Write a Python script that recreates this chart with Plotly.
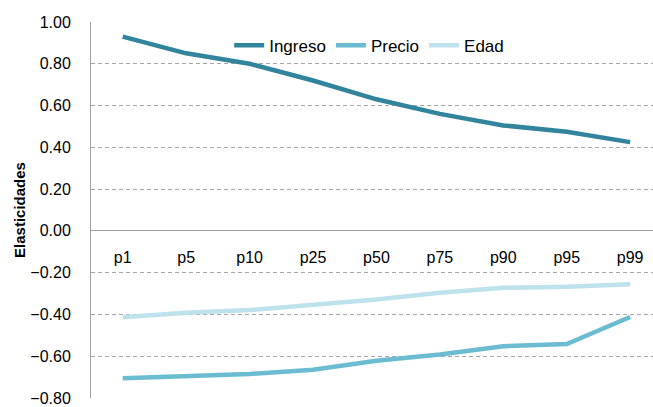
import plotly.graph_objects as go

categories = ["p1", "p5", "p10", "p25", "p50", "p75", "p90", "p95", "p99"]
ingreso = [0.93, 0.85, 0.80, 0.72, 0.63, 0.56, 0.505, 0.475, 0.425]
precio = [-0.705, -0.695, -0.685, -0.665, -0.622, -0.592, -0.552, -0.542, -0.412]
edad = [-0.413, -0.392, -0.379, -0.355, -0.328, -0.296, -0.272, -0.267, -0.255]

series = [
    ("Ingreso", ingreso, "#31849B"),
    ("Precio", precio, "#6BBCD1"),
    ("Edad", edad, "#BDE2EB"),
]

fig = go.Figure()
for name, vals, color in series:
    fig.add_trace(go.Scatter(
        x=list(range(len(categories))), y=vals, name=name, mode="lines",
        line=dict(color=color, width=4.5),
    ))

font = "Liberation Sans, Arial, sans-serif"
fig.update_layout(
    width=653, height=407,
    margin=dict(l=91, r=0, t=22, b=9),
    paper_bgcolor="white", plot_bgcolor="white",
    font=dict(family=font, size=16, color="#000000"),
    showlegend=True,
    legend=dict(orientation="h", x=0.495, xanchor="center", y=0.985, yanchor="top",
                bgcolor="rgba(0,0,0,0)", font=dict(size=17, family=font),
                itemwidth=30, tracegroupgap=0),
    xaxis=dict(
        tickmode="array", tickvals=list(range(len(categories))), ticktext=categories,
        range=[-0.5, 8.36], showgrid=False, zeroline=False, showline=False,
        anchor="free", position=(0.8 / 1.8), side="bottom",
        ticks="", ticklabelstandoff=15, tickfont=dict(size=16, family=font),
    ),
    yaxis=dict(
        range=[-0.8, 1.0], dtick=0.2, tick0=0, tickformat=".2f",
        showgrid=True, gridcolor="#A6A6A6", griddash="4px,3px", gridwidth=1,
        zeroline=True, zerolinecolor="#A0A0A0", zerolinewidth=1,
        showline=True, linecolor="#A0A0A0", linewidth=1,
        ticks="", ticklabelstandoff=16, tickfont=dict(size=16, family=font),
        title=dict(text="<b>Elasticidades</b>", font=dict(size=15, family=font), standoff=1),
    ),
)

fig.write_html("out.html")
